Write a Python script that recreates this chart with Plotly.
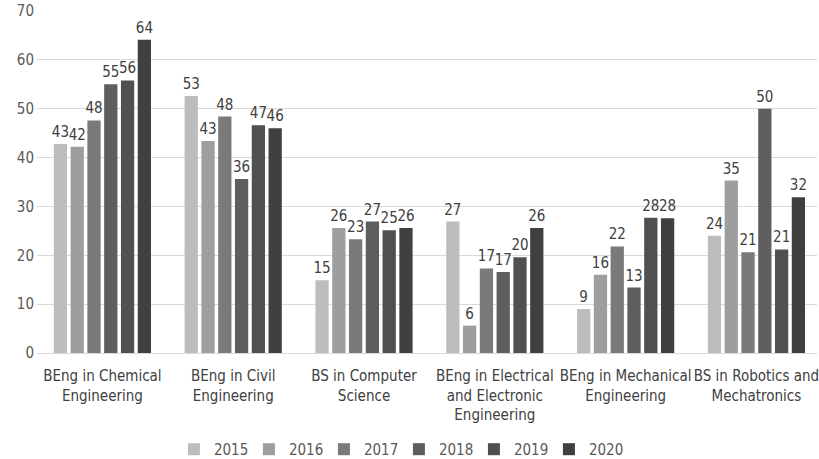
import plotly.graph_objects as go

categories = [
    "BEng in Chemical<br>Engineering",
    "BEng in Civil<br>Engineering",
    "BS in Computer<br>Science",
    "BEng in Electrical<br>and Electronic<br>Engineering",
    "BEng in Mechanical<br>Engineering",
    "BS in Robotics and<br>Mechatronics",
]
years = ["2015", "2016", "2017", "2018", "2019", "2020"]

v2015 = [42.8, 52.6, 14.9, 26.9, 9.0, 24.0]
v2016 = [42.2, 43.4, 25.6, 5.6, 16.0, 35.3]
v2017 = [47.6, 48.4, 23.3, 17.3, 21.8, 20.6]
v2018 = [55.0, 35.6, 26.9, 16.6, 13.4, 50.0]
v2019 = [55.8, 46.6, 25.1, 19.6, 27.7, 21.2]
v2020 = [64.1, 46.0, 25.6, 25.6, 27.6, 31.9]

series = [v2015, v2016, v2017, v2018, v2019, v2020]
colors = ["#bdbdbd", "#9e9e9e", "#7a7a7a", "#5e5e5e", "#505050", "#404040"]

font_family = "Liberation Sans Narrow, DejaVu Sans Condensed, sans-serif"

fig = go.Figure()
for yr, vals, col in zip(years, series, colors):
    fig.add_trace(go.Bar(
        x=categories, y=vals, name=yr,
        marker=dict(color=col, line=dict(width=0)),
        texttemplate="%{y:.0f}", textposition="outside",
        constraintext="none",
        textfont=dict(size=15, color="#404040", family=font_family),
        cliponaxis=False,
    ))

fig.update_layout(
    width=819, height=459,
    margin=dict(l=37, r=2, t=11, b=106, autoexpand=False),
    paper_bgcolor="white", plot_bgcolor="white",
    barmode="group", bargap=0.23, bargroupgap=0.21,
    font=dict(family=font_family, size=15, color="#595959"),
    legend=dict(orientation="h", x=0.464, xanchor="center", y=-0.282, yanchor="middle",
                font=dict(size=15, color="#595959"), traceorder="normal",
                entrywidth=30, entrywidthmode="pixels"),
)
fig.update_xaxes(range=[-0.5, 5.463], showgrid=False, ticks="", showline=True,
                 automargin=False, ticklabelstandoff=9,
                 linecolor="#d9d9d9", linewidth=1, tickfont=dict(size=15, color="#404040"))
fig.update_yaxes(range=[0, 70], dtick=10, showgrid=True, gridcolor="#d9d9d9",
                 automargin=False, ticklabelstandoff=2,
                 zeroline=False, showline=False, ticks="",
                 tickfont=dict(size=15, color="#595959"))

fig.write_html("out.html")
